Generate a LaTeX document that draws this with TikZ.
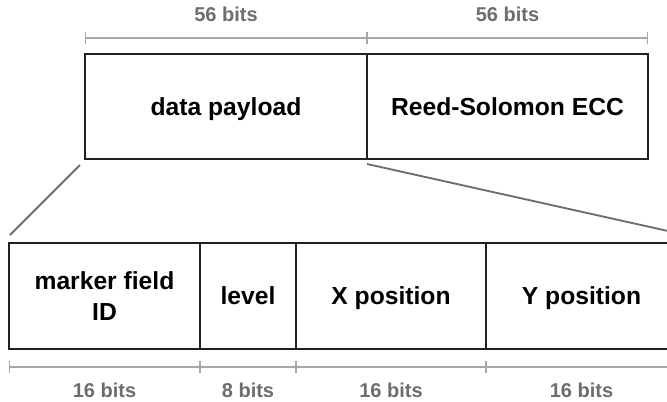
\documentclass[tikz,border=0pt]{standalone}
\usepackage{fontspec}
\setmainfont{Liberation Sans}
\usetikzlibrary{positioning, arrows.meta}

\definecolor{dimgray}{HTML}{A6A6A6}
\definecolor{labelgray}{HTML}{6D6D6D}
\definecolor{zoomgray}{HTML}{6E6E6E}
\definecolor{boxline}{HTML}{222222}

\begin{document}
\begin{tikzpicture}[x=0.75pt, y=-0.75pt,
	field/.style = {draw = boxline, line width = 2.2pt, rectangle, outer sep = 0pt,
		inner sep = 0pt, align = center, text depth = 0pt,
		font = \bfseries\fontsize{18.5}{23}\selectfont},
	toprow/.style = {field, minimum height = 78.75pt},
	botrow/.style = {field, minimum height = 79.5pt},
	dimline/.style = {dimgray, line width = 1.3pt,
		{Bar[width = 9pt, line width = 1pt]}-{Bar[width = 9pt, line width = 1pt]}},
	bitlabel/.style = {labelgray, font = \bfseries\fontsize{15}{18}\selectfont},
	zoomline/.style = {zoomgray, line width = 1.4pt},
	node distance = 0pt]

	\useasboundingbox (0, 0) rectangle (667, 401);
	\clip (0, 0) rectangle (667, 401);

	% Packet
	
	\node [toprow, minimum width = 211.5pt] (payload) at (226, 106.5) {data payload};
	\node [toprow, minimum width = 210.75pt, right = of payload] (ecc) {Reed-Solomon ECC};
	
	% Payload fields
	
	\node [botrow, minimum width = 143.25pt] (markerid) at (104.5, 296) {marker field\\ID};
	\node [botrow, minimum width = 72pt, right = of markerid] (level) {level};
	\node [botrow, minimum width = 142.5pt, right = of level] (xpos) {X position};
	\node [botrow, minimum width = 143.25pt, right = of xpos] (ypos) {Y position};
	
	% Zoom lines
	
	\draw [zoomline] ([xshift = -3.75pt, yshift = -4.5pt] payload.south west)
		-- ([xshift = 0.75pt, yshift = 6pt] markerid.north west);
	\draw [zoomline] ([yshift = -3.75pt] ecc.south west)
		-- ([yshift = 7.5pt] ypos.north east);
	
	% Bit widths
	
	\begin{scope}[every node/.style = {bitlabel}]
	
		\draw [dimline] ([yshift = 12pt] payload.north west) -- ([yshift = 12pt] payload.north east)
			node [midway, above = 8pt] {56 bits};
		\draw [dimline] ([yshift = 12pt] ecc.north west) -- ([yshift = 12pt] ecc.north east)
			node [midway, above = 8pt] {56 bits};
		
		\draw [dimline] ([yshift = -13.5pt] markerid.south west) -- ([yshift = -13.5pt] markerid.south east)
			node [midway, below = 8pt] {16 bits};
		\draw [dimline] ([yshift = -13.5pt] level.south west) -- ([yshift = -13.5pt] level.south east)
			node [midway, below = 8pt] {8 bits};
		\draw [dimline] ([yshift = -13.5pt] xpos.south west) -- ([yshift = -13.5pt] xpos.south east)
			node [midway, below = 8pt] {16 bits};
		\draw [dimline] ([yshift = -13.5pt] ypos.south west) -- ([yshift = -13.5pt] ypos.south east)
			node [midway, below = 8pt] {16 bits};
	
	\end{scope}

\end{tikzpicture}
\end{document}
